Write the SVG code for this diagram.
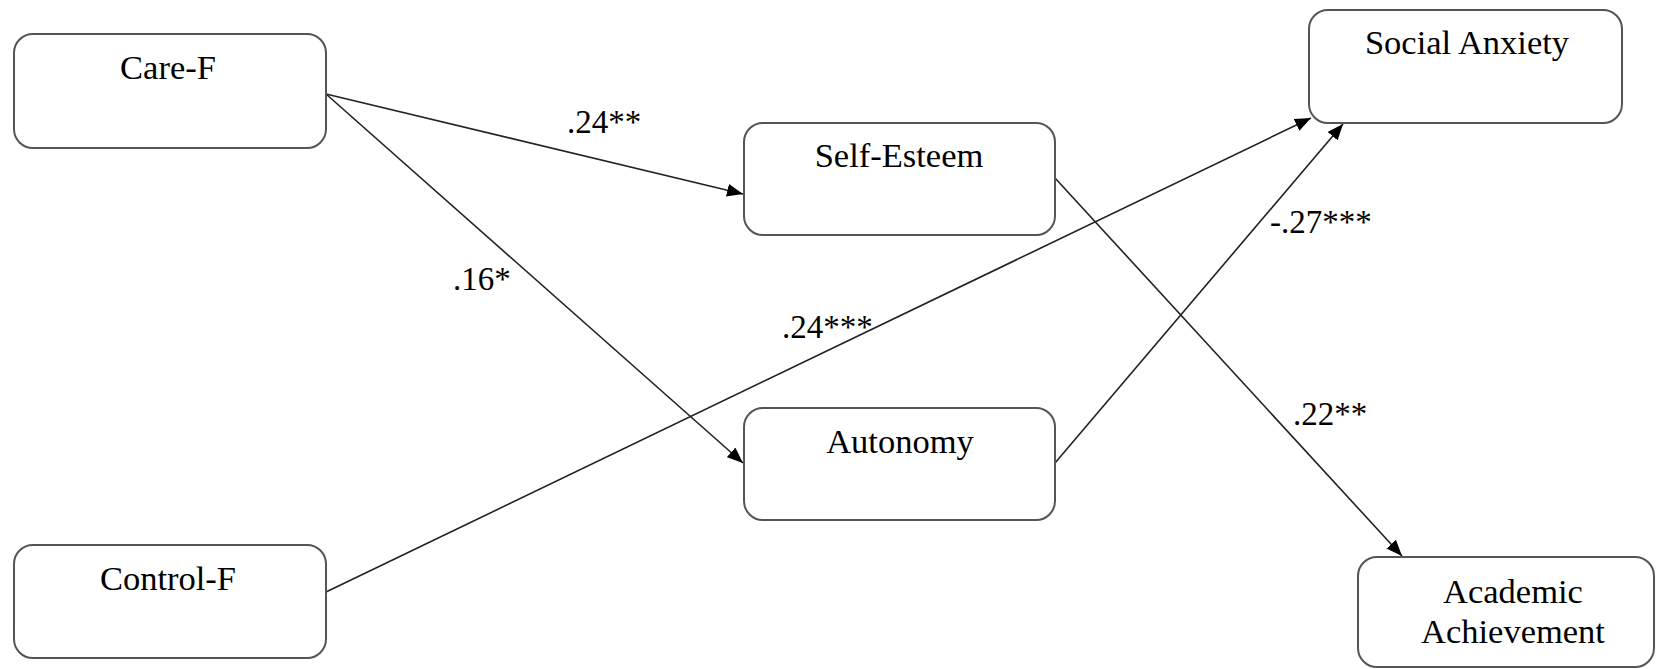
<svg xmlns="http://www.w3.org/2000/svg" width="1657" height="669" viewBox="0 0 1657 669">
<style>
.box{fill:#fff;stroke:#555;stroke-width:2}
.t{font-family:"Liberation Serif","Times New Roman",serif;font-size:34.5px;fill:#000;text-anchor:middle}
.l{font-family:"Liberation Serif","Times New Roman",serif;font-size:33px;fill:#000}
.c{stroke:#222;stroke-width:1.6;fill:none;marker-end:url(#ah)}
</style>
<defs>
<marker id="ah" markerUnits="userSpaceOnUse" markerWidth="17" markerHeight="13" refX="16" refY="6.5" orient="auto">
<path d="M0,0 L16,6.5 L0,13 z" fill="#000"/>
</marker>
</defs>
<rect width="1657" height="669" fill="#fff"/>
<g id="connectors">
<line class="c" x1="326" y1="94" x2="743" y2="194"/>
<line class="c" x1="326" y1="94" x2="743" y2="463"/>
<line class="c" x1="326" y1="592" x2="1311" y2="118"/>
<line class="c" x1="1055" y1="463" x2="1343" y2="124"/>
<line class="c" x1="1055" y1="178" x2="1402" y2="556"/>
<text class="l" x="567" y="133">.24**</text>
<text class="l" x="453" y="290">.16*</text>
<text class="l" x="782" y="338">.24***</text>
<text class="l" x="1270" y="233">-.27***</text>
<text class="l" x="1293" y="425">.22**</text>
</g>
<g id="care-f"><rect class="box" x="14" y="34" width="312" height="114" rx="19"/><text class="t" x="168" y="79">Care-F</text></g>
<g id="control-f"><rect class="box" x="14" y="545" width="312" height="113" rx="19"/><text class="t" x="168" y="590">Control-F</text></g>
<g id="self-esteem"><rect class="box" x="744" y="123" width="311" height="112" rx="19"/><text class="t" x="899" y="167">Self-Esteem</text></g>
<g id="autonomy"><rect class="box" x="744" y="408" width="311" height="112" rx="19"/><text class="t" x="900" y="453">Autonomy</text></g>
<g id="social-anxiety"><rect class="box" x="1309" y="10" width="313" height="113" rx="19"/><text class="t" x="1467" y="54">Social Anxiety</text></g>
<g id="academic-achievement"><rect class="box" x="1358" y="557" width="296" height="110" rx="19"/><text class="t" x="1513" y="603">Academic</text><text class="t" x="1513" y="643">Achievement</text></g>
</svg>
